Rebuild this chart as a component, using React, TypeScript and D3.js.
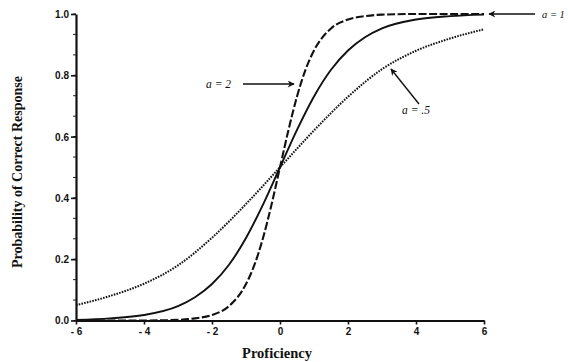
import React, { useEffect, useRef } from 'react';
import * as d3 from 'd3';

// proficiency (theta) and probability values
const a05Theta = [-6, -5, -4, -3, -2, -1, 0, 1, 2, 3, 4, 5, 6];
const a05Prob = [0.05, 0.08, 0.12, 0.18, 0.27, 0.38, 0.5, 0.62, 0.73, 0.82, 0.88, 0.92, 0.95];

const a1Theta = [-6, -5, -4, -3, -2.5, -2, -1.5, -1, -0.5, 0, 0.5, 1, 1.5, 2, 2.5, 3, 4, 5, 6];
const a1Prob = [0.002, 0.007, 0.018, 0.047, 0.076, 0.119, 0.182, 0.269, 0.378, 0.5, 0.622, 0.731, 0.818, 0.881, 0.924, 0.953, 0.982, 0.993, 0.998];

const a2Theta = [-6, -4, -3, -2.5, -2, -1.5, -1, -0.75, -0.5, -0.25, 0, 0.25, 0.5, 0.75, 1, 1.5, 2, 2.5, 3, 4, 6];
const a2Prob = [0, 0, 0.002, 0.007, 0.018, 0.047, 0.119, 0.182, 0.269, 0.378, 0.5, 0.622, 0.731, 0.818, 0.881, 0.953, 0.982, 0.993, 0.998, 1, 1];

const xTicks = [-6, -4, -2, 0, 2, 4, 6];
const yTicks = [0, 0.2, 0.4, 0.6, 0.8, 1.0];

const W = 568;
const H = 362;

export default function App() {
  const svgRef = useRef<SVGSVGElement>(null);

  useEffect(() => {
    if (!svgRef.current) return;
    const svg = d3.select(svgRef.current);
    svg.selectAll('*').remove();

    const x = d3.scaleLinear().domain([-6, 6]).range([76, 484]);
    const y = d3.scaleLinear().domain([0, 1]).range([320.5, 14]);

    svg.append('rect').attr('width', W).attr('height', H).attr('fill', '#fff');

    const defs = svg.append('defs');
    defs.append('marker')
      .attr('id', 'arrow')
      .attr('viewBox', '0 0 10 10')
      .attr('refX', 9)
      .attr('refY', 5)
      .attr('markerWidth', 10)
      .attr('markerHeight', 7)
      .attr('markerUnits', 'userSpaceOnUse')
      .attr('orient', 'auto')
      .append('path')
      .attr('d', 'M0,0 L10,5 L0,10 L3,5 Z')
      .attr('fill', '#111');

    // minor ticks
    const minorY = d3.range(0, 1.0001, 0.2 / 3);
    svg.append('g')
      .selectAll('line')
      .data(minorY)
      .enter()
      .append('line')
      .attr('x1', 73)
      .attr('x2', 76)
      .attr('y1', d => y(d))
      .attr('y2', d => y(d))
      .attr('stroke', '#222')
      .attr('stroke-width', 1);

    // axes
    const yAxis = svg.append('g')
      .attr('transform', 'translate(76,0)')
      .call(d3.axisLeft(y).tickValues(yTicks).tickFormat(d3.format('.1f')).tickSize(5).tickSizeOuter(0));
    const xAxis = svg.append('g')
      .attr('transform', 'translate(0,320.5)')
      .call(d3.axisBottom(x).tickValues(xTicks)
        .tickFormat(d => (+d < 0 ? `- ${-d}` : `${d}`))
        .tickSize(4).tickSizeOuter(0));

    [yAxis, xAxis].forEach(g => {
      g.select('.domain').attr('stroke', '#111').attr('stroke-width', 2.2);
      g.selectAll('.tick line').attr('stroke', '#111').attr('stroke-width', 1.6);
      g.selectAll('.tick text')
        .attr('fill', '#111')
        .style('font-family', '"Liberation Sans", Arial, sans-serif')
        .style('font-size', '10px')
        .style('font-weight', 'bold');
    });
    yAxis.selectAll('.tick text').attr('x', -7).attr('dy', '0.34em');
    xAxis.selectAll('.tick text').attr('y', 7);

    // curves
    const curves = [
      { theta: a05Theta, prob: a05Prob, dash: '1.6,1.2', width: 2 },
      { theta: a1Theta, prob: a1Prob, dash: null, width: 1.9 },
      { theta: a2Theta, prob: a2Prob, dash: '8,2.5', width: 2.1 },
    ];
    const line = d3.line<[number, number]>()
      .x(d => x(d[0]))
      .y(d => y(d[1]))
      .curve(d3.curveMonotoneX);

    curves.forEach(c => {
      const pts = c.theta.map((t, i) => [t, c.prob[i]] as [number, number]);
      svg.append('path')
        .attr('d', line(pts))
        .attr('fill', 'none')
        .attr('stroke', '#111')
        .attr('stroke-width', c.width)
        .attr('stroke-dasharray', c.dash as any);
    });

    // annotations
    const arrows = [
      { x1: 243, y1: 84, x2: 294, y2: 84 },
      { x1: 535, y1: 14, x2: 489, y2: 14 },
      { x1: 419, y1: 104, x2: 391, y2: 69 },
    ];
    svg.append('g')
      .selectAll('line')
      .data(arrows)
      .enter()
      .append('line')
      .attr('x1', d => d.x1)
      .attr('y1', d => d.y1)
      .attr('x2', d => d.x2)
      .attr('y2', d => d.y2)
      .attr('stroke', '#111')
      .attr('stroke-width', 1.4)
      .attr('marker-end', 'url(#arrow)');

    const labels = [
      { x: 206, y: 88, t: 'a = 2', size: 11.5 },
      { x: 542, y: 18, t: 'a = 1', size: 10.5 },
      { x: 402, y: 114, t: 'a = .5', size: 11.5 },
    ];
    svg.append('g')
      .selectAll('text')
      .data(labels)
      .enter()
      .append('text')
      .attr('x', d => d.x)
      .attr('y', d => d.y)
      .text(d => d.t)
      .attr('fill', '#111')
      .style('font-family', '"Liberation Serif", "Times New Roman", serif')
      .style('font-style', 'italic')
      .style('font-size', d => `${d.size}px`);

    // axis titles
    svg.append('text')
      .attr('x', 277)
      .attr('y', 358)
      .attr('text-anchor', 'middle')
      .text('Proficiency')
      .attr('fill', '#111')
      .style('font-family', '"Liberation Serif", "Times New Roman", serif')
      .style('font-weight', 'bold')
      .style('font-size', '14.5px');

    svg.append('text')
      .attr('transform', 'translate(22,172) rotate(-90)')
      .attr('text-anchor', 'middle')
      .text('Probability of Correct Response')
      .attr('fill', '#111')
      .style('font-family', '"Liberation Serif", "Times New Roman", serif')
      .style('font-weight', 'bold')
      .style('font-size', '14px');
  }, []);

  return (
    <svg
      ref={svgRef}
      width={W}
      height={H}
      style={{ position: 'absolute', left: 0, top: 0, display: 'block' }}
    />
  );
}
